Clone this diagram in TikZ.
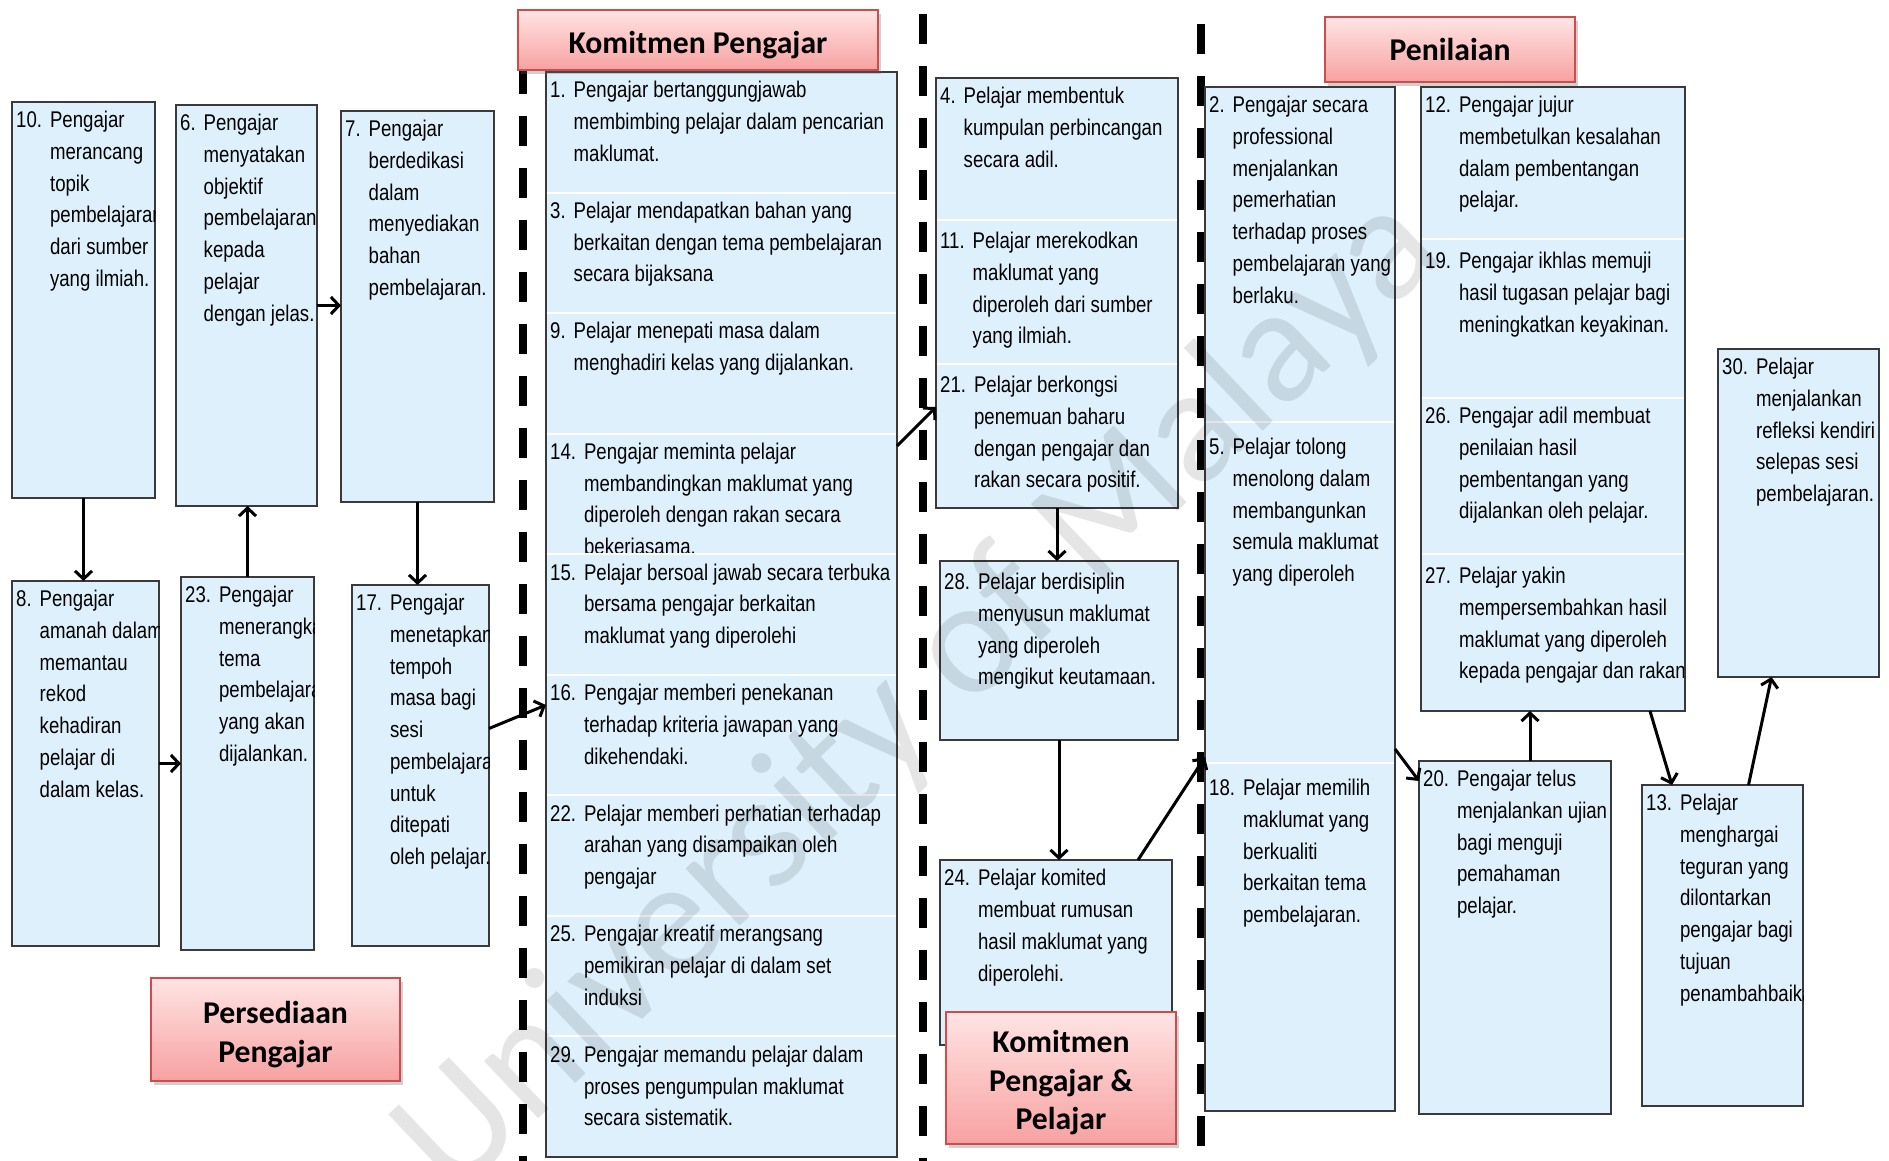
\documentclass[tikz,border=0pt]{standalone}
\usepackage{fontspec}
\usetikzlibrary{arrows.meta,shadows}
\newfontfamily\cellfont[FakeStretch=0.82]{Liberation Sans}
\newfontfamily\tagfont{Carlito}
\definecolor{cellfill}{HTML}{DDF0FC}
\definecolor{cellline}{HTML}{3A3A3A}
\definecolor{tagtop}{HTML}{FFE4E4}
\definecolor{tagbot}{HTML}{F7A1A1}
\definecolor{tagline}{HTML}{CF4C4C}
% numbered item with a hanging indent
\newcommand{\itm}[2]{#1\hspace{8pt}\begin{tabular}[t]{@{}l@{}}#2\end{tabular}}
% bordered box, its text clipped to the box; optional arg drops the text further
\newcommand{\cellbox}[7][0]{%
  \node[cell, minimum width=#5pt, minimum height=#6pt] (#2) at (#3,#4) {};
  \begin{scope}
    \clip (#2.south west) rectangle (#2.north east);
    \node[txt] (#2t) at ([xshift=4pt,yshift={-3.5pt-#1pt}]#2.north west) {#7};
  \end{scope}}
% one row of a stacked group
\newcommand{\rowcell}[7][0]{%
  \node[row, minimum width=#5pt, minimum height=#6pt] (#2) at (#3,#4) {};
  \node[txt] (#2t) at ([xshift=4pt,yshift={-3.5pt-#1pt}]#2.north west) {#7};}
% section title: shaded box plus its caption; optional arg lowers the caption
\newcommand{\tagbox}[7][5]{%
  \node[tag, minimum width=#5pt, minimum height=#6pt] (#2) at (#3,#4) {};
  \node[tagtext] (#2t) at ([yshift=-#1pt]#2.center) {#7};}
\tikzset{
  cell/.style={draw=cellline, fill=cellfill, line width=2pt, anchor=north west, inner sep=0pt, outer sep=0pt},
  row/.style={draw=white, fill=cellfill, line width=2pt, anchor=north west, inner sep=0pt, outer sep=0pt},
  frame/.style={draw=cellline, line width=2pt},
  txt/.style={anchor=north west, inner sep=0pt, font=\cellfont\fontsize{22.7pt}{31.7pt}\selectfont},
  tag/.style={draw=tagline, line width=2pt, top color=tagtop, bottom color=tagbot, inner sep=0pt,
    drop shadow={shadow xshift=3pt, shadow yshift=-4pt, opacity=0.3, fill=black!60}},
  tagtext/.style={align=center, inner sep=0pt, font=\tagfont\bfseries\fontsize{31.7pt}{38.5pt}\selectfont},
  divider/.style={line width=8pt, dash pattern=on 30pt off 22pt},
  arr/.style={line width=3pt, -{Straight Barb[length=8pt,width=17pt]}},
  wmark/.style={font=\tagfont\fontsize{165pt}{165pt}\selectfont, text=black, opacity=0.10, rotate=43.5, anchor=base, inner sep=0pt},
}
\begin{document}
\begin{tikzpicture}[x=1pt,y=-1pt]
\fill[white] (0,0) rectangle (1889,1161);
\useasboundingbox (0,0) rectangle (1889,1161);

% section dividers
\coordinate (d1t) at (523,64);   \coordinate (d1b) at (523,1161);
\coordinate (d2t) at (923,14);   \coordinate (d2b) at (923,1161);
\coordinate (d3t) at (1201,24);  \coordinate (d3b) at (1201,1161);
\draw[divider] (d1t) -- (d1b);
\draw[divider] (d2t) -- (d2b);
\draw[divider] (d3t) -- (d3b);

% Persediaan Pengajar
\cellbox{b10}{12}{102}{143}{396}{\itm{10.}{Pengajar\\merancang\\topik\\pembelajaran\\dari sumber\\yang ilmiah.}}
\cellbox{b6}{176}{105}{141}{401}{\itm{6.}{Pengajar\\menyatakan\\objektif\\pembelajaran\\kepada\\pelajar\\dengan jelas.}}
\cellbox{b7}{341}{111}{153}{391}{\itm{7.}{Pengajar\\berdedikasi\\dalam\\menyediakan\\bahan\\pembelajaran.}}
\cellbox{b8}{12}{581}{147}{365}{\itm{8.}{Pengajar\\amanah dalam\\memantau\\rekod\\kehadiran\\pelajar di\\dalam kelas.}}
\cellbox{b23}{181}{577}{133}{373}{\itm{23.}{Pengajar\\menerangkan\\tema\\pembelajaran\\yang akan\\dijalankan.}}
\cellbox{b17}{352}{585}{137}{361}{\itm{17.}{Pengajar\\menetapkan\\tempoh\\masa bagi\\sesi\\pembelajaran\\untuk\\ditepati\\oleh pelajar.}}

% Komitmen Pengajar
\rowcell{r1}{546}{72}{351}{120.55}{\itm{1.}{Pengajar bertanggungjawab\\membimbing pelajar dalam pencarian\\maklumat.}}
\rowcell{r3}{546}{192.55}{351}{120.55}{\itm{3.}{Pelajar mendapatkan bahan yang\\berkaitan dengan tema pembelajaran\\secara bijaksana}}
\rowcell{r9}{546}{313.1}{351}{120.55}{\itm{9.}{Pelajar menepati masa dalam\\menghadiri kelas yang dijalankan.}}
\rowcell{r14}{546}{433.65}{351}{120.55}{\itm{14.}{Pengajar meminta pelajar\\membandingkan maklumat yang\\diperoleh dengan rakan secara\\bekeriasama.}}
\rowcell{r15}{546}{554.2}{351}{120.55}{\itm{15.}{Pelajar bersoal jawab secara terbuka\\bersama pengajar berkaitan\\maklumat yang diperolehi}}
\rowcell{r16}{546}{674.75}{351}{120.55}{\itm{16.}{Pengajar memberi penekanan\\terhadap kriteria jawapan yang\\dikehendaki.}}
\rowcell{r22}{546}{795.3}{351}{120.55}{\itm{22.}{Pelajar memberi perhatian terhadap\\arahan yang disampaikan oleh\\pengajar}}
\rowcell{r25}{546}{915.85}{351}{120.55}{\itm{25.}{Pengajar kreatif merangsang\\pemikiran pelajar di dalam set\\induksi}}
\rowcell{r29}{546}{1036.4}{351}{120.55}{\itm{29.}{Pengajar memandu pelajar dalam\\proses pengumpulan maklumat\\secara sistematik.}}
\draw[frame] (r1.north west) rectangle (r29.south east);

% Komitmen Pengajar & Pelajar
\rowcell{r4}{936}{78}{242}{142}{\itm{4.}{Pelajar membentuk\\kumpulan perbincangan\\secara adil.}}
\rowcell[3]{r11}{936}{220}{242}{144}{\itm{11.}{Pelajar merekodkan\\maklumat yang\\diperoleh dari sumber\\yang ilmiah.}}
\rowcell[3]{r21}{936}{364}{242}{144}{\itm{21.}{Pelajar berkongsi\\penemuan baharu\\dengan pengajar dan\\rakan secara positif.}}
\draw[frame] (r4.north west) rectangle (r21.south east);
\cellbox[3]{b28}{940}{561}{238}{179}{\itm{28.}{Pelajar berdisiplin\\menyusun maklumat\\yang diperoleh\\mengikut keutamaan.}}
\cellbox{b24}{940}{860}{232}{185}{\itm{24.}{Pelajar komited\\membuat rumusan\\hasil maklumat yang\\diperolehi.}}

% Penilaian
\rowcell{r2}{1205}{87}{190}{335}{\itm{2.}{Pengajar secara\\professional\\menjalankan\\pemerhatian\\terhadap proses\\pembelajaran yang\\berlaku.}}
\rowcell[7]{r5}{1205}{422}{190}{341}{\itm{5.}{Pelajar tolong\\menolong dalam\\membangunkan\\semula maklumat\\yang diperoleh}}
\rowcell[7]{r18}{1205}{763}{190}{348}{\itm{18.}{Pelajar memilih\\maklumat yang\\berkualiti\\berkaitan tema\\pembelajaran.}}
\draw[frame] (r2.north west) rectangle (r18.south east);
\rowcell{r12}{1421}{87}{264}{152}{\itm{12.}{Pengajar jujur\\membetulkan kesalahan\\dalam pembentangan\\pelajar.}}
\rowcell[4]{r19}{1421}{239}{264}{159}{\itm{19.}{Pengajar ikhlas memuji\\hasil tugasan pelajar bagi\\meningkatkan keyakinan.}}
\rowcell{r26}{1421}{398}{264}{156}{\itm{26.}{Pengajar adil membuat\\penilaian hasil\\pembentangan yang\\dijalankan oleh pelajar.}}
\rowcell[4]{r27}{1421}{554}{264}{157}{\itm{27.}{Pelajar yakin\\mempersembahkan hasil\\maklumat yang diperoleh\\kepada pengajar dan rakan}}
\draw[frame] (r12.north west) rectangle (r27.south east);
\cellbox{b30}{1718}{349}{161}{328}{\itm{30.}{Pelajar\\menjalankan\\refleksi kendiri\\selepas sesi\\pembelajaran.}}
\cellbox{b20}{1419}{761}{192}{353}{\itm{20.}{Pengajar telus\\menjalankan ujian\\bagi menguji\\pemahaman\\pelajar.}}
\cellbox{b13}{1642}{785}{161}{321}{\itm{13.}{Pelajar\\menghargai\\teguran yang\\dilontarkan\\pengajar bagi\\tujuan\\penambahbaikan}}

% section titles
\tagbox{tKP}{698}{40}{360}{60}{Komitmen Pengajar}
\tagbox[0]{tPen}{1450}{49.5}{250}{65}{Penilaian}
\tagbox{tPers}{275.5}{1029.5}{249}{103}{Persediaan\\Pengajar}
\tagbox{tKPP}{1061}{1078}{230}{132}{Komitmen\\Pengajar \&\\Pelajar}

% flow
\draw[arr] (b10.south) -- (b10.south |- b8.north);
\draw[arr] (b23.north) -- (b23.north |- b6.south);
\draw[arr] (b7.south) -- (b7.south |- b17.north);
\draw[arr] (b6.east) -- (b6.east -| b7.west);
\draw[arr] (b8.east) -- (b8.east -| b23.west);
\draw[arr] ([yshift=37pt]b17.east) -- ([yshift=30pt]r16.west);
\draw[arr] ([yshift=48pt]r14.east) -- ([yshift=29pt]r21.west);
\draw[arr] (r21.south) -- (r21.south |- b28.north);
\draw[arr] (b28.south) -- (b28.south |- b24.north);
\draw[arr] ([xshift=-34pt]b24.north east) -- ([yshift=6pt]r18.north west);
\draw[arr] ([yshift=14pt]r5.south east) -- ([yshift=-20pt]b20.north west);
\draw[arr] ([xshift=15pt]b20.north) -- ([xshift=15pt]b20.north |- r27.south);
\draw[arr] ([xshift=-35pt]r27.south east) -- ([xshift=30pt]b13.north west);
\draw[arr] ([xshift=26pt]b13.north) -- ([xshift=-27pt]b30.south);

% watermark
\node[wmark] (wm) at (950,728) {University of Malaya};
\end{tikzpicture}
\end{document}
